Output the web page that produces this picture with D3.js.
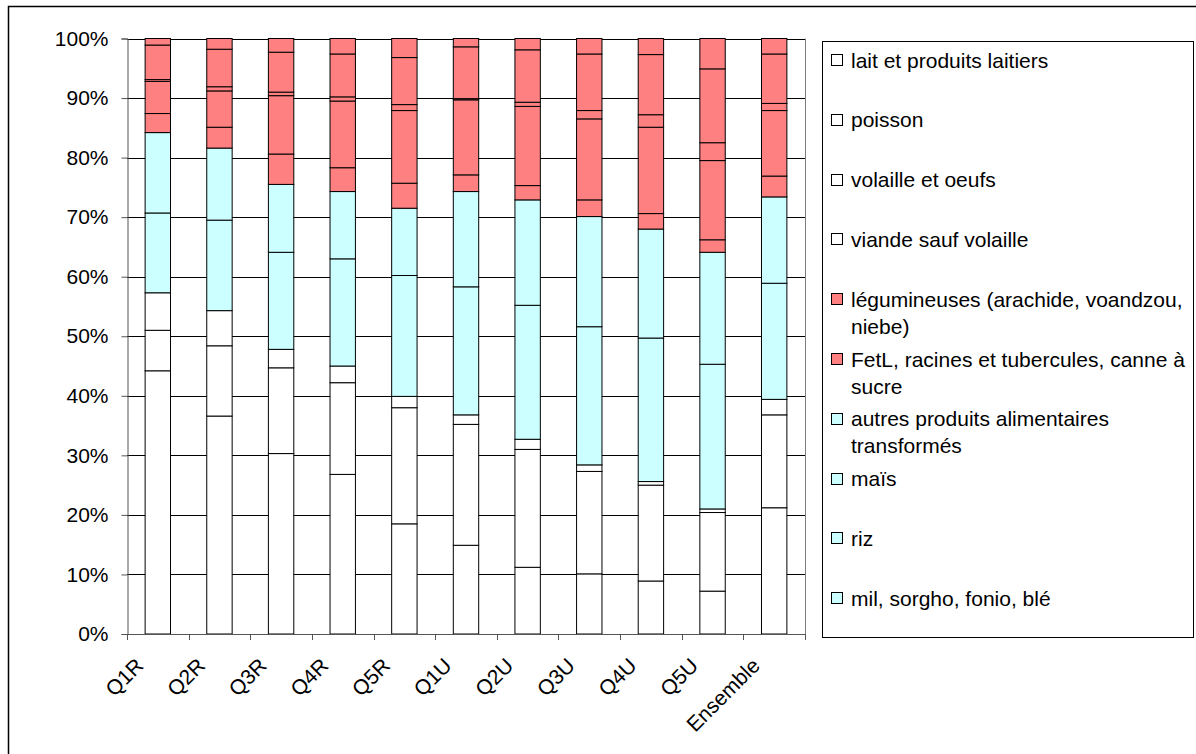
<!DOCTYPE html>
<html>
<head>
<meta charset="utf-8">
<script src="https://cdn.jsdelivr.net/npm/d3@7"></script>
<style>
  body { margin: 0; background: #fff; }
  svg { display: block; }
  text { font-family: "Liberation Sans", Arial, sans-serif; fill: #000; }
</style>
</head>
<body>
<svg id="chart" width="1196" height="754"></svg>
<script>
// Share of food spending by group, per quintile (rural R / urban U) and overall
const categories = ["Q1R", "Q2R", "Q3R", "Q4R", "Q5R", "Q1U", "Q2U", "Q3U", "Q4U", "Q5U", "Ensemble"];

// Series values in percent, stacked bottom to top
const milSorgho    = [44.2, 36.6, 30.3, 26.8, 18.5, 14.9, 11.2, 10.1,  8.9,  7.2, 21.2];
const riz          = [ 6.8, 11.8, 14.4, 15.4, 19.5, 20.3, 19.8, 17.2, 16.1, 13.2, 15.6];
const mais         = [ 6.3,  5.9,  3.1,  2.8,  1.9,  1.6,  1.7,  1.1,  0.6,  0.6,  2.6];
const autres       = [13.4, 15.2, 16.3, 18.0, 20.3, 21.5, 22.5, 23.2, 24.1, 24.3, 19.5];
const fetl         = [13.5, 12.1, 11.4, 11.3, 11.3, 16.0, 17.7, 18.5, 18.3, 18.8, 14.5];
const legumineuses = [ 3.2,  3.5,  5.1,  4.0,  4.2,  2.8,  2.4,  2.8,  2.6,  2.1,  3.5];
const viande       = [ 5.4,  6.1,  9.8, 11.2, 12.2, 12.6, 13.3, 13.6, 14.5, 13.3, 11.0];
const volaille     = [ 0.3,  0.7,  0.6,  0.7,  1.0,  0.2,  0.7,  1.4,  2.1,  3.0,  1.2];
const poisson      = [ 5.8,  6.3,  6.7,  7.2,  7.9,  8.7,  8.8,  9.5, 10.1, 12.4,  8.3];
const lait         = [ 1.1,  1.8,  2.3,  2.6,  3.2,  1.4,  1.9,  2.6,  2.7,  5.1,  2.6];

const seriesKeys = ["mil", "riz", "mais", "autres", "fetl", "legumineuses", "viande", "volaille", "poisson", "lait"];
const seriesValues = [milSorgho, riz, mais, autres, fetl, legumineuses, viande, volaille, poisson, lait];
const seriesNames = [
  "mil, sorgho, fonio, blé",
  "riz",
  "maïs",
  "autres produits alimentaires\ntransformés",
  "FetL, racines et tubercules, canne à\nsucre",
  "légumineuses (arachide, voandzou,\nniebe)",
  "viande sauf volaille",
  "volaille et oeufs",
  "poisson",
  "lait et produits laitiers"
];
const yTicks = [0, 0.1, 0.2, 0.3, 0.4, 0.5, 0.6, 0.7, 0.8, 0.9, 1.0];

// ---- styling ----
const WHITE = "#ffffff", CYAN = "#ccffff", RED = "#ff8080";
const barFill    = [WHITE, WHITE, WHITE, CYAN, CYAN, RED, RED, RED, RED, RED];
const legendFill = [CYAN, CYAN, CYAN, CYAN, RED, RED, WHITE, WHITE, WHITE, WHITE];
const FONT_SIZE = 21;

const plot = { left: 127, right: 805, top: 38.5, bottom: 634 };

const svg = d3.select("#chart");

// outer chart frame
svg.append("rect")
  .attr("x", 8.5).attr("y", 6.5)
  .attr("width", 1300).attr("height", 900)
  .attr("fill", "#fff").attr("stroke", "#000").attr("stroke-width", 1.5);

const table = categories.map((c, i) => {
  const row = { category: c };
  seriesKeys.forEach((k, j) => { row[k] = seriesValues[j][i]; });
  return row;
});

const stacked = d3.stack().keys(seriesKeys).offset(d3.stackOffsetExpand)(table);

const x = d3.scaleBand()
  .domain(categories)
  .range([plot.left, plot.right])
  .paddingInner(0.588)
  .paddingOuter(0.294);

const y = d3.scaleLinear().domain([0, 1]).range([plot.bottom, plot.top]);

// horizontal gridlines
svg.append("g")
  .selectAll("line")
  .data(yTicks.slice(1))
  .join("line")
  .attr("x1", plot.left).attr("x2", plot.right)
  .attr("y1", d => Math.round(y(d)) + 0.5).attr("y2", d => Math.round(y(d)) + 0.5)
  .attr("stroke", "#000").attr("stroke-width", 1);

// plot area right border
svg.append("line")
  .attr("x1", plot.right + 0.5).attr("x2", plot.right + 0.5)
  .attr("y1", plot.top).attr("y2", plot.bottom)
  .attr("stroke", "#808080").attr("stroke-width", 1);

// stacked bars
svg.append("g")
  .selectAll("g")
  .data(stacked)
  .join("g")
  .attr("fill", (d, i) => barFill[i])
  .selectAll("rect")
  .data(d => d.map(p => ({ p, cat: p.data.category })))
  .join("rect")
  .attr("x", d => x(d.cat))
  .attr("width", x.bandwidth())
  .attr("y", d => y(d.p[1]))
  .attr("height", d => y(d.p[0]) - y(d.p[1]))
  .attr("stroke", "#000")
  .attr("stroke-width", 1);

// y axis
const yAxis = svg.append("g")
  .attr("transform", `translate(${plot.left + 0.5},0)`)
  .call(d3.axisLeft(y).tickValues(yTicks).tickFormat(d3.format(".0%")).tickSize(6).tickPadding(13));
yAxis.select(".domain").attr("stroke", "#555");
yAxis.selectAll(".tick line").attr("stroke", "#555");
yAxis.selectAll("text").attr("font-size", FONT_SIZE).attr("font-family", "Liberation Sans, Arial, sans-serif");

// x axis line and boundary ticks
svg.append("line")
  .attr("x1", plot.left).attr("x2", plot.right)
  .attr("y1", plot.bottom + 0.5).attr("y2", plot.bottom + 0.5)
  .attr("stroke", "#555");
const half = (x.step() - x.bandwidth()) / 2;
const bounds = categories.map(c => x(c) - half).concat([x(categories[categories.length - 1]) + x.bandwidth() + half]);
svg.append("g")
  .selectAll("line")
  .data(bounds)
  .join("line")
  .attr("x1", d => Math.round(d) + 0.5).attr("x2", d => Math.round(d) + 0.5)
  .attr("y1", plot.bottom).attr("y2", plot.bottom + 6)
  .attr("stroke", "#555");

// rotated category labels
svg.append("g")
  .selectAll("text")
  .data(categories)
  .join("text")
  .attr("transform", d => `translate(${x(d) + x.bandwidth() / 2 - 13},${plot.bottom + 33}) rotate(-45)`)
  .attr("text-anchor", "end")
  .attr("font-size", FONT_SIZE)
  .text(d => d);

// legend
const legend = svg.append("g");
legend.append("rect")
  .attr("x", 822.5).attr("y", 41.5)
  .attr("width", 371).attr("height", 596)
  .attr("fill", "#fff").attr("stroke", "#000").attr("stroke-width", 1);

const legendOrder = d3.range(seriesKeys.length).reverse();
legendOrder.forEach((si, row) => {
  const cy = 60 + row * 59.8;
  const g = legend.append("g");
  g.append("rect")
    .attr("x", 831.5).attr("y", Math.round(cy - 6) + 0.5)
    .attr("width", 11).attr("height", 11)
    .attr("fill", legendFill[si]).attr("stroke", "#000").attr("stroke-width", 1);
  const lines = seriesNames[si].split("\n");
  const t = g.append("text").attr("x", 851).attr("y", cy + 7.5).attr("font-size", FONT_SIZE);
  lines.forEach((ln, k) => {
    t.append("tspan").attr("x", 851).attr("dy", k === 0 ? 0 : 27).text(ln);
  });
});
</script>
</body>
</html>
